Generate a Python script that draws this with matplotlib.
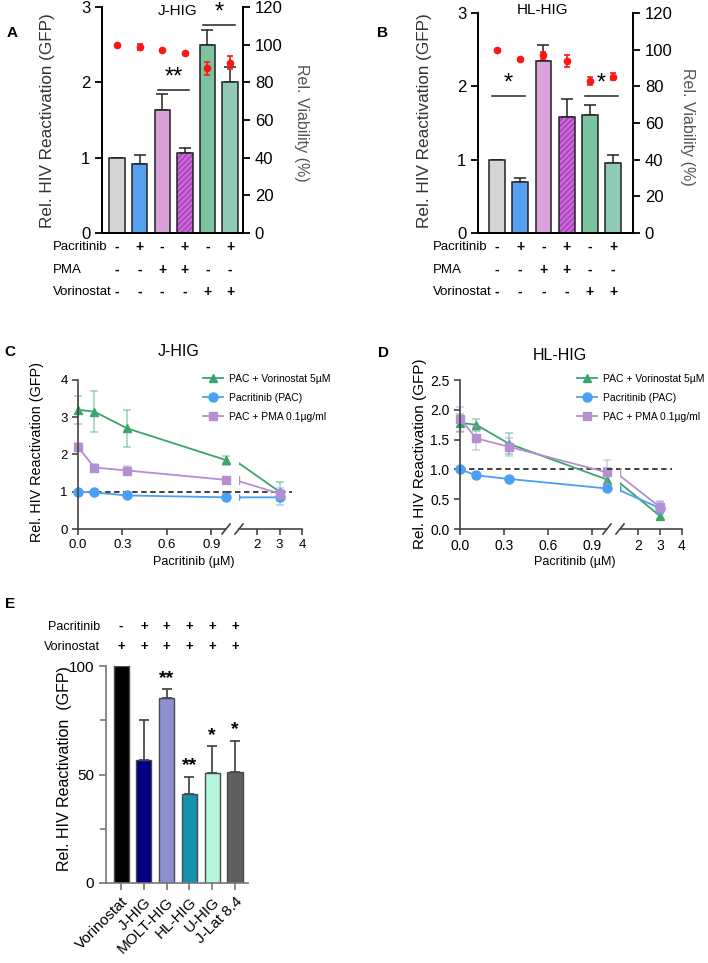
import numpy as np
import matplotlib
matplotlib.use('Agg')
import matplotlib.pyplot as plt
from matplotlib.transforms import blended_transform_factory

plt.rcParams['font.family'] = ['Liberation Sans', 'DejaVu Sans']
plt.rcParams['hatch.linewidth'] = 1.6

W, H = 708, 963

# panels A/B: bars = rel. HIV reactivation (GFP), red dots = viability (%)
treat_pac = ['-', '+', '-', '+', '-', '+']
treat_pma = ['-', '-', '+', '+', '-', '-']
treat_vor = ['-', '-', '-', '-', '+', '+']
bar_colors = ['#d4d4d4', '#56a0f0', '#d9a2d9', '#9a48c0', '#7cc4a0', '#86c8de']
hatch_colors = [None, None, None, '#d866d8', None, '#98cc98']

a_gfp = [1.0, 0.92, 1.63, 1.06, 2.49, 2.0]
a_gfp_err = [0, 0.11, 0.22, 0.07, 0.2, 0.2]
a_via = [100, 98.6, 97.2, 95.4, 87.4, 90.4]
a_via_err = [0, 1.5, 0, 0, 3.5, 3.5]
a_sig = [(2, 3, 1.9, '**'), (4, 5, 2.76, '*')]

b_gfp = [1.0, 0.69, 2.34, 1.58, 1.61, 0.95]
b_gfp_err = [0, 0.06, 0.22, 0.25, 0.14, 0.12]
b_via = [100, 94.7, 96.9, 93.8, 82.9, 85.3]
b_via_err = [0, 0, 2, 3.3, 2, 2]
b_sig = [(0, 1, 1.87, '*'), (4, 5, 1.87, '*')]

# panels C/D: dose response
doses = [0, 0.111, 0.333, 1.0, 3.0]
c_vor = [3.2, 3.15, 2.7, 1.85, 1.0]
c_vor_err = [0.38, 0.55, 0.5, 0.12, 0.25]
c_pac = [1.0, 0.98, 0.9, 0.85, 0.85]
c_pac_err = [0.02, 0.03, 0.03, 0.08, 0.2]
c_pma = [2.2, 1.65, 1.57, 1.32, 0.95]
c_pma_err = [0.1, 0.1, 0.12, 0.05, 0.15]

d_vor = [1.78, 1.75, 1.43, 0.83, 0.22]
d_vor_err = [0.15, 0.1, 0.18, 0.2, 0.05]
d_pac = [1.0, 0.9, 0.84, 0.68, 0.35]
d_pac_err = [0.02, 0.05, 0.03, 0.05, 0.1]
d_pma = [1.85, 1.52, 1.38, 0.95, 0.37]
d_pma_err = [0.2, 0.2, 0.15, 0.2, 0.1]

series_names = ['PAC + Vorinostat 5µM', 'Pacritinib (PAC)', 'PAC + PMA 0.1µg/ml']
series_colors = ['#3ba56c', '#4aa0f5', '#b48fd2']
series_markers = ['^', 'o', 's']

# panel E
e_labels = ['Vorinostat', 'J-HIG', 'MOLT-HIG', 'HL-HIG', 'U-HIG', 'J-Lat 8.4']
e_pac = ['-', '+', '+', '+', '+', '+']
e_vor = ['+', '+', '+', '+', '+', '+']
e_vals = [100, 56.7, 85.4, 40.9, 50.6, 51]
e_err = [0, 18.4, 4, 8.1, 12.4, 14.6]
e_stars = ['', '', '**', '**', '*', '*']
e_colors = ['#000000', '#000080', '#8c8fd0', '#1394ae', '#b4f5dc', '#5f5f5f']


def px_rect(x0, y0, x1, y1):
    return [x0 / W, 1 - y1 / H, (x1 - x0) / W, (y1 - y0) / H]


def fy(y):
    return 1 - y / H


fig = plt.figure(figsize=(W / 100, H / 100), dpi=100)


def bar_panel(rect, xlim, gfp, gfp_err, via, via_err, sig, title, title_xy,
              row_label_x, ylab_xy, ylab2_xy):
    ax = fig.add_axes(rect)
    x = np.arange(len(gfp))
    for i in x:
        if hatch_colors[i]:
            ax.bar(i, gfp[i], width=0.68, color=bar_colors[i], edgecolor=hatch_colors[i],
                   hatch='//////', linewidth=0, zorder=2)
            ax.bar(i, gfp[i], width=0.68, fill=False, edgecolor='#222222', linewidth=1.1, zorder=3)
        else:
            ax.bar(i, gfp[i], width=0.68, color=bar_colors[i], edgecolor='#222222',
                   linewidth=1.1, zorder=2)
    ax.errorbar(x, gfp, yerr=[np.zeros(len(x)), gfp_err], fmt='none', ecolor='#222222',
                elinewidth=1.1, capsize=4, capthick=1.1, zorder=1)
    ax.set_xlim(*xlim)
    ax.set_ylim(0, 3)
    ax.set_yticks([0, 1, 2, 3])
    ax.set_xticks([])
    ax.spines['top'].set_visible(False)
    for s in ax.spines.values():
        s.set_linewidth(1.3)
    ax.tick_params(axis='y', labelsize=12, width=1.3, length=5)

    for i0, i1, level, star in sig:
        ax.plot([i0 - 0.2, i1 + 0.2], [level, level], color='#222222', lw=1.1, zorder=4)
        ax.text((i0 + i1) / 2, level + 0.02, star, ha='center', va='bottom',
                fontsize=17, zorder=4)

    ax2 = ax.twinx()
    ax2.set_ylim(0, 120)
    ax2.set_yticks(range(0, 121, 20))
    ax2.errorbar(x, via, yerr=via_err, fmt='o', color='#ff1515', ms=4.5,
                 elinewidth=1.2, capsize=2.5, capthick=1.2)
    ax2.spines['top'].set_visible(False)
    for s in ax2.spines.values():
        s.set_linewidth(1.3)
    ax2.tick_params(axis='y', labelsize=12, width=1.3, length=5)

    fig.text(title_xy[0] / W, fy(title_xy[1]), title, ha='center', va='center', fontsize=11)
    fig.text(ylab_xy[0] / W, fy(ylab_xy[1]), 'Rel. HIV Reactivation (GFP)', rotation=90,
             ha='center', va='center', fontsize=12.3, color='#333333')
    fig.text(ylab2_xy[0] / W, fy(ylab2_xy[1]), 'Rel. Viability (%)', rotation=270,
             ha='center', va='center', fontsize=11.5, color='#555555')

    tr = blended_transform_factory(ax.transData, fig.transFigure)
    for row_y, name, signs in [(247, 'Pacritinib', treat_pac), (270, 'PMA', treat_pma),
                               (292, 'Vorinostat', treat_vor)]:
        fig.text(row_label_x / W, fy(row_y), name, fontsize=9.5, va='center')
        for i, s in enumerate(signs):
            ax.text(i, fy(row_y), s, transform=tr, ha='center', va='center',
                    fontsize=10, fontweight='bold')
    return ax


bar_panel(px_rect(102, 7, 243, 233), (-0.66, 5.57), a_gfp, a_gfp_err, a_via, a_via_err,
          a_sig, 'J-HIG', (178, 11), 53, (48, 121), (302, 123))
bar_panel(px_rect(478, 13, 633, 233), (-0.82, 5.86), b_gfp, b_gfp_err, b_via, b_via_err,
          b_sig, 'HL-HIG', (542, 10), 433, (424, 121), (687, 127))


def dose_panel(x0, x_break, x1, ylim, yticks, yfmt, data, title, title_xy, ylab_xy,
               leg_xy, ylab_size, tick_size):
    axl = fig.add_axes(px_rect(x0, 380, x_break, 529))
    axr = fig.add_axes(px_rect(x_break + 13, 380, x1, 529))
    handles = []
    for (vals, errs), name, col, mk in zip(data, series_names, series_colors, series_markers):
        ms = 6.5 if mk == 'o' else 5.5
        for ax, sl, clip in [(axl, slice(0, 4), False), (axr, slice(0, 5), True)]:
            ax.errorbar(doses[sl], vals[sl], yerr=errs[sl], fmt='none', ecolor=col, alpha=0.5,
                        elinewidth=1.1, capsize=3, capthick=1.1, clip_on=clip)
            ln, = ax.plot(doses[sl], vals[sl], color=col, marker=mk, ms=ms, lw=1.3,
                          clip_on=clip, label=name)
            if ax is axl:
                handles.append(ln)
    axl.axhline(1.0, color='#333333', ls=(0, (3, 2)), lw=1.3, zorder=0)
    axr.plot([0.6, 3.55], [1.0, 1.0], color='#333333', ls=(0, (3, 2)), lw=1.3,
             clip_on=False, zorder=0)

    axl.set_xlim(0, 1.0)
    axr.set_xlim(1.2, 4)
    axl.set_ylim(*ylim)
    axl.set_yticks(yticks)
    axl.set_yticklabels([yfmt.format(v) for v in yticks])
    axl.set_xticks([0, 0.3, 0.6, 0.9])
    axl.set_xticklabels(['0.0', '0.3', '0.6', '0.9'])
    axr.set_xticks([2, 3, 4])
    axr.tick_params(axis='y', left=False, labelleft=False)
    for ax in (axl, axr):
        ax.spines['top'].set_visible(False)
        ax.spines['right'].set_visible(False)
        for s in ax.spines.values():
            s.set_linewidth(1.2)
            s.set_color('#444444')
        ax.tick_params(labelsize=tick_size, width=1.2, length=4, color='#444444')
    axr.spines['left'].set_visible(False)
    axr.set_ylim(*ylim)

    # break marks on the x axis
    for ax, xa in [(axl, 1.0), (axr, 0.0)]:
        wpx = ax.get_position().width * W
        dx = 4 / wpx
        hpx = ax.get_position().height * H
        dy = 5 / hpx
        ax.plot([xa - dx, xa + dx], [-dy, dy], transform=ax.transAxes, color='#444444',
                lw=1.2, clip_on=False)

    fig.text(title_xy[0] / W, fy(title_xy[1]), title, ha='center', va='center', fontsize=11.5)
    fig.text(ylab_xy[0] / W, fy(ylab_xy[1]), 'Rel. HIV Reactivation (GFP)', rotation=90,
             ha='center', va='center', fontsize=ylab_size)
    fig.text((x0 + x1) / 2 / W + 0.005, fy(562), 'Pacritinib (µM)', ha='center', va='center',
             fontsize=9)
    fig.legend(handles=handles, loc='upper left', bbox_to_anchor=(leg_xy[0] / W, fy(leg_xy[1])),
               frameon=False, fontsize=7.5, borderpad=0, borderaxespad=0,
               handlelength=1.9, handletextpad=0.6, labelspacing=0.85)


dose_panel(78, 226, 302, (0, 4), [0, 1, 2, 3, 4], '{:.0f}',
           [(c_vor, c_vor_err), (c_pac, c_pac_err), (c_pma, c_pma_err)],
           'J-HIG', (179, 352), (37, 452), (203, 374), 10.4, 9.5)
dose_panel(460, 607, 682, (0, 2.5), [0, 0.5, 1.0, 1.5, 2.0, 2.5], '{:.1f}',
           [(d_vor, d_vor_err), (d_pac, d_pac_err), (d_pma, d_pma_err)],
           'HL-HIG', (560, 356), (420, 454), (577, 374), 11, 10)

# panel E
axe = fig.add_axes(px_rect(106, 666, 248, 883))
xe = np.arange(len(e_vals))
axe.bar(xe, e_vals, width=0.66, color=e_colors, edgecolor='#4a4a4a', linewidth=1, zorder=2)
axe.errorbar(xe, e_vals, yerr=[np.zeros(len(xe)), e_err], fmt='none', ecolor='#4a4a4a',
             elinewidth=1.3, capsize=3.5, capthick=1.3, zorder=1)
for i, st in enumerate(e_stars):
    if st:
        axe.text(i, e_vals[i] + e_err[i] + 1, st, ha='center', va='bottom', fontsize=14,
                 fontweight='bold')
axe.set_xlim(-0.66, 5.57)
axe.set_ylim(0, 100)
axe.set_yticks([0, 50, 100])
axe.set_yticks([25, 75], minor=True)
axe.set_xticks(xe)
axe.set_xticklabels(e_labels, rotation=45, ha='right', rotation_mode='anchor', fontsize=11)
for s in ['top', 'right']:
    axe.spines[s].set_visible(False)
for s in axe.spines.values():
    s.set_color('#777777')
    s.set_linewidth(1.2)
axe.tick_params(axis='both', which='both', color='#777777', width=1.2)
axe.tick_params(axis='y', labelsize=11, length=5)
axe.tick_params(axis='y', which='minor', length=4)
axe.tick_params(axis='x', length=5)
fig.text(65 / W, fy(769), 'Rel. HIV Reactivation  (GFP)', rotation=90, ha='center',
         va='center', fontsize=11.5)
tre = blended_transform_factory(axe.transData, fig.transFigure)
for row_y, name, signs in [(627, 'Pacritinib', e_pac), (647, 'Vorinostat', e_vor)]:
    fig.text(100 / W, fy(row_y), name, fontsize=9, ha='right', va='center')
    for i, s in enumerate(signs):
        axe.text(i, fy(row_y), s, transform=tre, ha='center', va='center', fontsize=9.5,
                 fontweight='bold')

# panel letters
for letter, (lx, ly) in zip('ABCDE', [(7, 33), (377, 33), (4, 352), (378, 353), (5, 604)]):
    fig.text(lx / W, fy(ly), letter, fontsize=11, fontweight='bold', va='center')

fig.savefig('out.png', dpi=100)
